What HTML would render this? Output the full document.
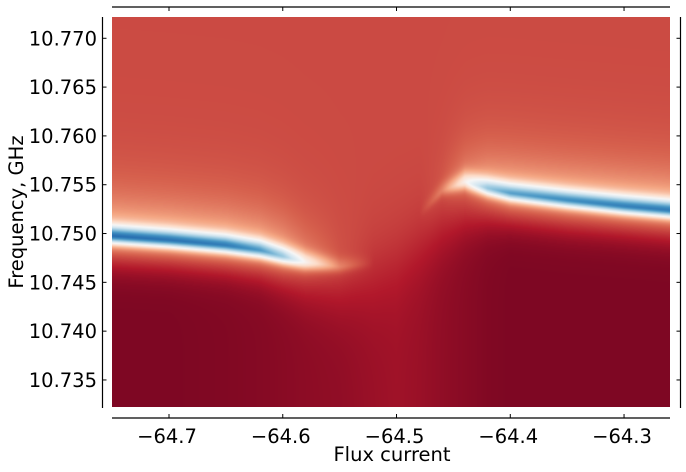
<!DOCTYPE html>
<html><head><meta charset="utf-8">
<style>
html,body{margin:0;padding:0;background:#fff;}
#wrap{position:relative;width:686px;height:472px;overflow:hidden;font-family:"DejaVu Sans","Liberation Sans",sans-serif;}
canvas{position:absolute;left:112px;top:17px;}
svg{position:absolute;left:0;top:0;}
text{font-family:"DejaVu Sans","Liberation Sans",sans-serif;font-size:19.5px;fill:#000;}
</style></head>
<body>
<div id="wrap">
<canvas id="heat" width="558" height="390"></canvas>
<svg id="ax" width="686" height="472"></svg>
</div>
<script>
// ---- data ----
const fluxSamples = [-64.75,-64.70,-64.65,-64.62,-64.60,-64.58,-64.55,-64.52,-64.50,-64.48,-64.46,-64.44,-64.42,-64.40,-64.35,-64.30,-64.26];
const lineFreq    = [10.74974,10.74933,10.74880,10.74829,10.74767,10.74706,10.74660,10.74700,10.74900,10.75200,10.75440,10.75528,10.75464,10.75413,10.75342,10.75280,10.75239];
const linePeak    = [0.89,0.88,0.86,0.80,0.70,0.50,0.28,0.17,0.17,0.17,0.26,0.48,0.70,0.78,0.82,0.85,0.86];
const transFreq   = [10.74708,10.74677,10.74626,10.74575,10.74503,10.74442,10.74421,10.74550,10.74700,10.74882,10.75036,10.75118,10.75138,10.75118,10.75056,10.75016,10.74975];
const transWidth  = [0.0009,0.0009,0.0009,0.0010,0.0012,0.0015,0.0020,0.0024,0.0025,0.0023,0.0019,0.0014,0.0011,0.0009,0.0009,0.0009,0.0009];
const bgTop       = [0.17,0.17,0.17,0.17,0.17,0.17,0.17,0.17,0.17,0.17,0.17,0.17,0.17,0.17,0.17,0.17,0.17];
const bgBottom    = [0.03,0.03,0.035,0.04,0.045,0.05,0.055,0.068,0.075,0.068,0.055,0.045,0.035,0.03,0.03,0.03,0.03];
const xTicks = [-64.7,-64.6,-64.5,-64.4,-64.3];
const xTickLabels = ["\u221264.7","\u221264.6","\u221264.5","\u221264.4","\u221264.3"];
const yTicks = [10.735,10.740,10.745,10.750,10.755,10.760,10.765,10.770];
const yTickLabels = ["10.735","10.740","10.745","10.750","10.755","10.760","10.765","10.770"];

// ---- scales ----
const X0=112,X1=670,Y0=17,Y1=407;
const xMin=-64.7501, xMax=-64.2596, yMin=10.73223, yMax=10.77218;
const sx=v=>X0+(v-xMin)/(xMax-xMin)*(X1-X0);
const sy=v=>Y1-(v-yMin)/(yMax-yMin)*(Y1-Y0);

const stops=[[103,0,31],[178,24,43],[214,96,77],[244,165,130],[253,219,199],[247,247,247],[209,229,240],[146,197,222],[67,147,195],[33,102,172],[5,48,97]];
function cmap(v){v=Math.max(0,Math.min(1,v))*10;const i=Math.min(9,Math.floor(v)),t=v-i;const a=stops[i],b=stops[i+1];return [a[0]+(b[0]-a[0])*t,a[1]+(b[1]-a[1])*t,a[2]+(b[2]-a[2])*t];}
function interp(arr,f){if(f<=fluxSamples[0])return arr[0];for(let i=0;i<fluxSamples.length-1;i++){if(f<=fluxSamples[i+1]){const t=(f-fluxSamples[i])/(fluxSamples[i+1]-fluxSamples[i]);return arr[i]+(arr[i+1]-arr[i])*t;}}return arr[arr.length-1];}

// ---- draw heatmap ----
const cv=document.getElementById('heat'),ctx=cv.getContext('2d');
const W=cv.width,H=cv.height,img=ctx.createImageData(W,H);
for(let px=0;px<W;px++){
  const flux=xMin+(px+0.5)/W*(xMax-xMin);
  const f0=interp(lineFreq,flux),pk=interp(linePeak,flux),ft=interp(transFreq,flux),tw=interp(transWidth,flux),bt=interp(bgTop,flux),bb=interp(bgBottom,flux);
  const ge=Math.max(0,Math.min(1,(pk-0.17)/0.35));
  for(let py=0;py<H;py++){
    const f=yMax-(py+0.5)/H*(yMax-yMin);
    const s=1/(1+Math.exp(-(f-ft)/tw));
    const base=bb+(bt-bb)*s;
    const d=f-f0;let g;
    const wc=0.0005+0.0003*ge;
    if(d>=0) g=0.6*Math.exp(-Math.pow(d/(wc+0.0003),2))+0.4*Math.exp(-d/0.0028);
    else g=0.6*Math.exp(-Math.pow(d/wc,2))+0.4*Math.exp(d/0.0012);
    const v=base+(pk-bt)*g;
    const c=cmap(v);const k=(py*W+px)*4;
    img.data[k]=c[0];img.data[k+1]=c[1];img.data[k+2]=c[2];img.data[k+3]=255;
  }
}
ctx.putImageData(img,0,0);

// ---- axes ----
const svg=document.getElementById('ax');const NS='http://www.w3.org/2000/svg';
function mk(tag,attrs,parent){const e=document.createElementNS(NS,tag);for(const k in attrs)e.setAttribute(k,attrs[k]);(parent||svg).appendChild(e);return e;}
let e;
e=mk('line',{x1:X0,y1:7,x2:X1,y2:7,stroke:'#000','stroke-width':1.2});


e=mk('line',{x1:X0,y1:418,x2:X1,y2:418,stroke:'#000','stroke-width':1.2});


e=mk('line',{x1:102.5,y1:Y0,x2:102.5,y2:408,stroke:'#000','stroke-width':1.2});


e=mk('line',{x1:680.5,y1:Y0,x2:680.5,y2:408,stroke:'#000','stroke-width':1.2});


xTicks.forEach((v,i)=>{
  const x=sx(v);
  let t=mk('line',{x1:x,y1:418,x2:x,y2:414,stroke:'#000'});
  
  
  t=mk('line',{x1:x,y1:7,x2:x,y2:11,stroke:'#000'});
  
  
  t=mk('text',{x:x-2,y:443,'text-anchor':'middle'});t.textContent=xTickLabels[i];
  
  
});
yTicks.forEach((v,i)=>{
  const y=sy(v);
  let t=mk('line',{x1:102.5,y1:y,x2:106.5,y2:y,stroke:'#000'});
  
  
  t=mk('line',{x1:680.5,y1:y,x2:676.5,y2:y,stroke:'#000'});
  
  
  t=mk('text',{x:97,y:y+7,'text-anchor':'end'});t.textContent=yTickLabels[i];
  
  
});
e=mk('text',{x:392,y:461,'text-anchor':'middle'});e.textContent='Flux current';


e=mk('text',{x:0,y:0,'text-anchor':'middle',transform:'translate(23,212) rotate(-90)'});e.textContent='Frequency, GHz';


</script>
</body></html>
